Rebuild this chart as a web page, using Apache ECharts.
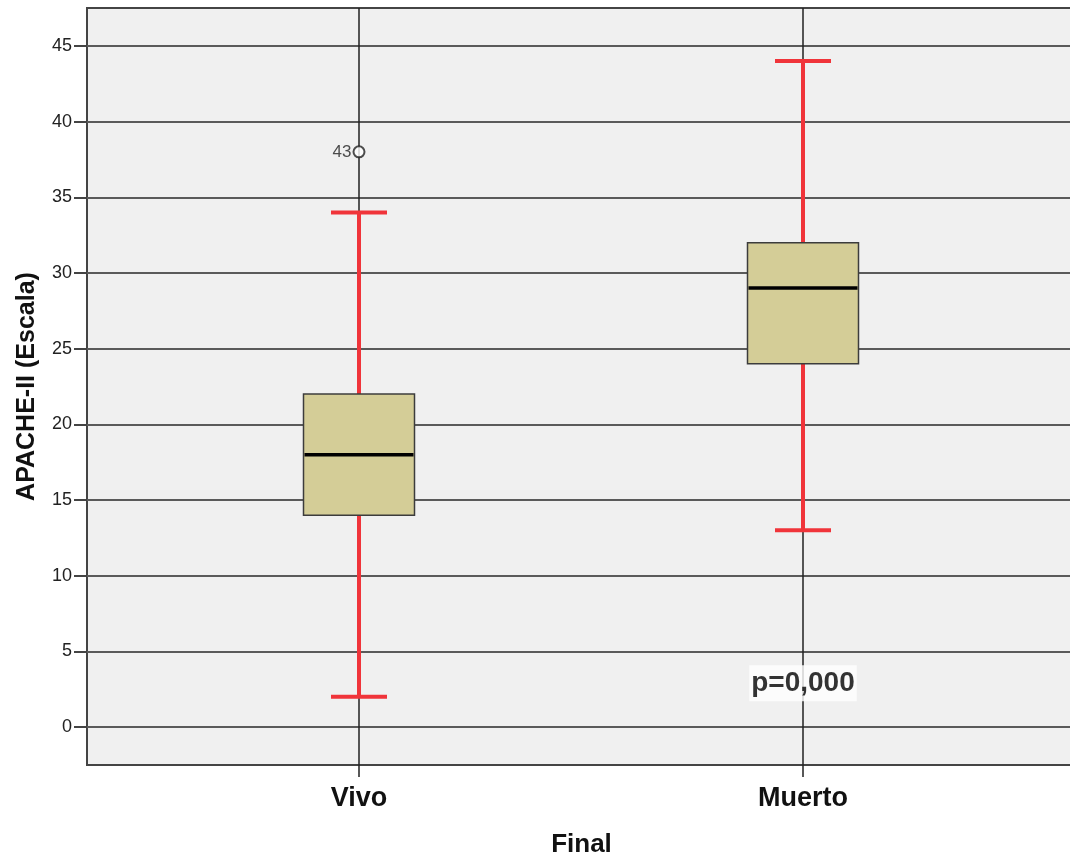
<!DOCTYPE html>
<html>
<head>
<meta charset="utf-8">
<script src="https://cdn.jsdelivr.net/npm/echarts@6/dist/echarts.min.js"></script>
<style>
html,body{margin:0;padding:0;background:#fff;}
#chart{width:1070px;height:860px;}
</style>
</head>
<body>
<div id="chart"></div>
<script>
// Data
const categories = ['Vivo', 'Muerto'];
const whiskerLow = [2, 13];
const q1 = [14, 24];
const median = [18, 29];
const q3 = [22, 32];
const whiskerHigh = [34, 44];
const outliers = [[0, 38, '43']];
const pValueText = 'p=0,000';
const pValuePos = [1, 2.9];
const yTickMin = 0, yTickMax = 45, yTickStep = 5;
const yFrameMin = -2.5, yFrameMax = 47.5;

const boxData = categories.map((c, i) => [i, whiskerLow[i], q1[i], median[i], q3[i], whiskerHigh[i]]);

const chart = echarts.init(document.getElementById('chart'), null, {renderer: 'canvas'});
const FONT = '"Liberation Sans", Arial, sans-serif';

function renderBox(params, api) {
  const x = api.value(0);
  const lo = api.coord([x, api.value(1)]);
  const b1 = api.coord([x, api.value(2)]);
  const md = api.coord([x, api.value(3)]);
  const b3 = api.coord([x, api.value(4)]);
  const hi = api.coord([x, api.value(5)]);
  const bw = 111, cw = 56;
  const cx = lo[0];
  const red = {stroke: '#f0343a', lineWidth: 4};
  return {
    type: 'group',
    children: [
      {type: 'line', shape: {x1: cx, y1: hi[1], x2: cx, y2: b3[1]}, style: red},
      {type: 'line', shape: {x1: cx, y1: b1[1], x2: cx, y2: lo[1]}, style: red},
      {type: 'line', shape: {x1: cx - cw / 2, y1: hi[1], x2: cx + cw / 2, y2: hi[1]}, style: red},
      {type: 'line', shape: {x1: cx - cw / 2, y1: lo[1], x2: cx + cw / 2, y2: lo[1]}, style: red},
      {type: 'rect', shape: {x: cx - bw / 2, y: b3[1], width: bw, height: b1[1] - b3[1]},
        style: {fill: '#d4cd97', stroke: '#3c3c3c', lineWidth: 1.5}},
      {type: 'line', shape: {x1: cx - bw / 2 + 1, y1: md[1], x2: cx + bw / 2 - 1, y2: md[1]},
        style: {stroke: '#000', lineWidth: 3.5}}
    ]
  };
}

const option = {
  animation: false,
  backgroundColor: '#ffffff',
  grid: [
    // frame / background
    {left: 87, right: -6, top: 8, bottom: 95, show: true, backgroundColor: '#f0f0f0',
      borderColor: '#444', borderWidth: 2, z: 0, outerBoundsMode: 'none', containLabel: false},
    // y ticks / gridlines (0..45)
    {left: 87, right: -6, top: 46, bottom: 133, outerBoundsMode: 'none', containLabel: false},
    // boxes
    {left: 359, right: 267, top: 8, bottom: 95, outerBoundsMode: 'none', containLabel: false}
  ],
  xAxis: [
    {type: 'value', gridIndex: 0, min: 0, max: 1,
      axisLine: {show: false}, axisTick: {show: false}, axisLabel: {show: false}, splitLine: {show: false},
      name: 'Final', nameLocation: 'middle', nameGap: 67,
      nameTextStyle: {fontFamily: FONT, fontSize: 26, fontWeight: 'bold', color: '#111'}},
    {type: 'value', gridIndex: 1, min: 0, max: 1, show: false},
    {type: 'category', gridIndex: 2, data: categories, boundaryGap: false,
      axisLine: {show: false, onZero: false},
      axisTick: {show: true, length: 12, lineStyle: {color: '#222', width: 1.5}},
      axisLabel: {margin: 20, fontFamily: FONT, fontSize: 27, fontWeight: 'bold', color: '#111'},
      splitLine: {show: true, lineStyle: {color: '#222', width: 1.5}}}
  ],
  yAxis: [
    {type: 'value', gridIndex: 0, min: yFrameMin, max: yFrameMax, show: false},
    {type: 'value', gridIndex: 1, min: yTickMin, max: yTickMax, interval: yTickStep,
      axisLine: {show: false},
      axisTick: {show: true, length: 13, lineStyle: {color: '#444', width: 2}},
      axisLabel: {margin: 15, fontFamily: FONT, fontSize: 18, color: '#222'},
      splitLine: {show: true, lineStyle: {color: '#5a5a5a', width: 2}},
      name: 'APACHE-II (Escala)', nameLocation: 'middle', nameGap: 47, nameRotate: 90,
      nameTextStyle: {fontFamily: FONT, fontSize: 25, fontWeight: 'bold', color: '#111'}},
    {type: 'value', gridIndex: 2, min: yFrameMin, max: yFrameMax, show: false}
  ],
  series: [
    {type: 'custom', xAxisIndex: 2, yAxisIndex: 2, data: boxData, renderItem: renderBox,
      encode: {x: 0, y: [1, 2, 3, 4, 5]}, z: 3},
    {type: 'scatter', xAxisIndex: 2, yAxisIndex: 2, data: outliers,
      symbol: 'emptyCircle', symbolSize: 11, itemStyle: {color: '#222', borderWidth: 1.3}, z: 4,
      label: {show: true, position: 'left', distance: 1, formatter: p => p.data[2],
        fontFamily: FONT, fontSize: 17, color: '#222'}},
    {type: 'scatter', xAxisIndex: 2, yAxisIndex: 2, data: [pValuePos], symbolSize: 0, z: 5,
      label: {show: true, position: 'inside', formatter: pValueText, fontFamily: FONT, fontSize: 28,
        fontWeight: 'bold', color: '#000', backgroundColor: '#ffffff', padding: [4, 2, 4, 2]}}
  ]
};
chart.setOption(option);
</script>
</body>
</html>
